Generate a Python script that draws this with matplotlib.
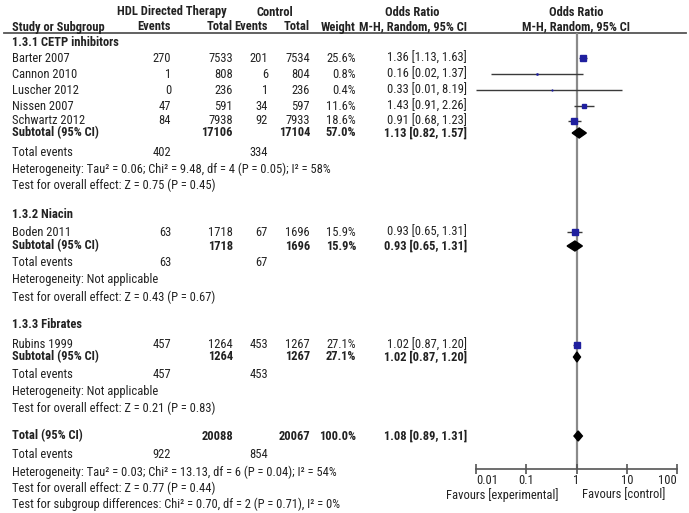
import matplotlib.pyplot as plt
from matplotlib.patches import Polygon
import numpy as np

plt.rcParams['font.family'] = ['Arial Narrow', 'Liberation Sans Narrow', 'Roboto Condensed',
                               'Archivo Narrow', 'PT Sans Narrow', 'Liberation Sans']

# study level data
studies = ['Barter 2007', 'Cannon 2010', 'Luscher 2012', 'Nissen 2007',
           'Schwartz 2012', 'Boden 2011', 'Rubins 1999']
exp_events = [270, 1, 0, 47, 84, 63, 457]
exp_total = [7533, 808, 236, 591, 7938, 1718, 1264]
ctl_events = [201, 6, 1, 34, 92, 67, 453]
ctl_total = [7534, 804, 236, 597, 7933, 1696, 1267]
weights = [25.6, 0.8, 0.4, 11.6, 18.6, 15.9, 27.1]
or_est = [1.36, 0.16, 0.33, 1.43, 0.91, 0.93, 1.02]
or_lo = [1.13, 0.02, 0.01, 0.91, 0.68, 0.65, 0.87]
or_hi = [1.63, 1.37, 8.19, 2.26, 1.23, 1.31, 1.20]

# subgroup data
subgroups = ['1.3.1 CETP inhibitors', '1.3.2 Niacin', '1.3.3 Fibrates']
sub_exp_total = [17106, 1718, 1264]
sub_ctl_total = [17104, 1696, 1267]
sub_exp_events = [402, 63, 457]
sub_ctl_events = [334, 67, 453]
sub_weight = [57.0, 15.9, 27.1]
sub_or = [1.13, 0.93, 1.02]
sub_lo = [0.82, 0.65, 0.87]
sub_hi = [1.57, 1.31, 1.20]
sub_het = ['Heterogeneity: Tau² = 0.06; Chi² = 9.48, df = 4 (P = 0.05); I² = 58%',
           'Heterogeneity: Not applicable',
           'Heterogeneity: Not applicable']
sub_test = ['Test for overall effect: Z = 0.75 (P = 0.45)',
            'Test for overall effect: Z = 0.43 (P = 0.67)',
            'Test for overall effect: Z = 0.21 (P = 0.83)']

# overall
tot_exp_total, tot_ctl_total = 20088, 20067
tot_exp_events, tot_ctl_events = 922, 854
tot_weight = 100.0
tot_or, tot_lo, tot_hi = 1.08, 0.89, 1.31
tot_het = 'Heterogeneity: Tau² = 0.03; Chi² = 13.13, df = 6 (P = 0.04); I² = 54%'
tot_test = 'Test for overall effect: Z = 0.77 (P = 0.44)'
sub_diff = 'Test for subgroup differences: Chi² = 0.70, df = 2 (P = 0.71), I² = 0%'

ticks = [0.01, 0.1, 1, 10, 100]
tick_labels = ['0.01', '0.1', '1', '10', '100']

# layout (pixel rows / columns)
study_y = [58, 74, 90, 106, 121, 232, 345]
grp_y = [43, 214, 325]
subtot_y = [133, 246, 357]
events_y = [153, 263, 375]
het_y = [169, 280, 392]
test_y = [185, 297, 408]
total_y, total_ev_y, total_het_y, total_test_y, diff_y = 436, 455, 472, 488, 504
axis_y, top_y = 469, 33
x_name, x_ee, x_et, x_ce, x_ct, x_w, x_or = 12, 171, 233, 268, 310, 356, 467

TXT = '#222222'
FS = 9

fig = plt.figure(figsize=(6.89, 5.13), dpi=100)
tab = fig.add_axes([0, 0, 1, 1])
tab.set_xlim(0, 689)
tab.set_ylim(513, 0)
tab.axis('off')


def t(x, y, s, ha='left', bold=False, size=FS):
    tab.text(x, y, s, ha=ha, va='center', fontsize=size, color=TXT,
             fontweight='bold' if bold else 'normal')


# headers
t(172, 12, 'HDL Directed Therapy', ha='center', bold=True)
t(275, 12, 'Control', ha='center', bold=True)
t(412, 12, 'Odds Ratio', ha='center', bold=True)
t(576, 12, 'Odds Ratio', ha='center', bold=True)
t(x_name, 27, 'Study or Subgroup', bold=True)
t(x_ee, 27, 'Events', ha='right', bold=True)
t(x_et, 27, 'Total', ha='right', bold=True)
t(x_ce, 27, 'Events', ha='right', bold=True)
t(x_ct, 27, 'Total', ha='right', bold=True)
t(x_w, 27, 'Weight', ha='right', bold=True)
t(x_or, 27, 'M-H, Random, 95% CI', ha='right', bold=True)
t(576, 27, 'M-H, Random, 95% CI', ha='center', bold=True)
tab.plot([4, 686], [top_y, top_y], color='#555555', lw=1.3)

for i, name in enumerate(studies):
    y = study_y[i]
    t(x_name, y, name)
    t(x_ee, y, str(exp_events[i]), ha='right')
    t(x_et, y, str(exp_total[i]), ha='right')
    t(x_ce, y, str(ctl_events[i]), ha='right')
    t(x_ct, y, str(ctl_total[i]), ha='right')
    t(x_w, y, f'{weights[i]:.1f}%', ha='right')
    t(x_or, y, f'{or_est[i]:.2f} [{or_lo[i]:.2f}, {or_hi[i]:.2f}]', ha='right')

for g, gname in enumerate(subgroups):
    t(x_name, grp_y[g], gname, bold=True)
    y = subtot_y[g]
    t(x_name, y, 'Subtotal (95% CI)', bold=True)
    t(x_et, y, str(sub_exp_total[g]), ha='right', bold=True)
    t(x_ct, y, str(sub_ctl_total[g]), ha='right', bold=True)
    t(x_w, y, f'{sub_weight[g]:.1f}%', ha='right', bold=True)
    t(x_or, y, f'{sub_or[g]:.2f} [{sub_lo[g]:.2f}, {sub_hi[g]:.2f}]', ha='right', bold=True)
    t(x_name, events_y[g], 'Total events')
    t(x_ee, events_y[g], str(sub_exp_events[g]), ha='right')
    t(x_ce, events_y[g], str(sub_ctl_events[g]), ha='right')
    t(x_name, het_y[g], sub_het[g])
    t(x_name, test_y[g], sub_test[g])

t(x_name, total_y, 'Total (95% CI)', bold=True)
t(x_et, total_y, str(tot_exp_total), ha='right', bold=True)
t(x_ct, total_y, str(tot_ctl_total), ha='right', bold=True)
t(x_w, total_y, f'{tot_weight:.1f}%', ha='right', bold=True)
t(x_or, total_y, f'{tot_or:.2f} [{tot_lo:.2f}, {tot_hi:.2f}]', ha='right', bold=True)
t(x_name, total_ev_y, 'Total events')
t(x_ee, total_ev_y, str(tot_exp_events), ha='right')
t(x_ce, total_ev_y, str(tot_ctl_events), ha='right')
t(x_name, total_het_y, tot_het)
t(x_name, total_test_y, tot_test)
t(x_name, diff_y, sub_diff)

# forest panel
x0, x1 = 476, 677
ax = fig.add_axes([x0 / 689, (513 - axis_y) / 513, (x1 - x0) / 689, (axis_y - top_y) / 513])
ax.set_xscale('log')
ax.set_xlim(0.01, 100)
ax.set_ylim(axis_y, top_y)
ax.patch.set_alpha(0)
for s in ['top', 'left', 'right']:
    ax.spines[s].set_visible(False)
ax.spines['bottom'].set_color('#555555')
ax.spines['bottom'].set_linewidth(1.2)
ax.set_yticks([])
ax.set_xticks(ticks)
ax.set_xticks([], minor=True)
ax.set_xticklabels(tick_labels)
ax.tick_params(axis='x', direction='inout', length=7, width=1.2, color='#555555',
               labelsize=FS, labelcolor=TXT, pad=0)
labs = ax.get_xticklabels()
labs[0].set_ha('left')
labs[-1].set_ha('right')

ax.axvline(1, color='#8a8a8a', lw=1.6, zorder=1)

for i in range(len(studies)):
    y = study_y[i]
    ax.hlines(y, or_lo[i], or_hi[i], color='#3a3a3a', lw=1.0, zorder=2, clip_on=False)
    side = 1.3 * np.sqrt(weights[i])
    ax.plot(or_est[i], y, marker='s', ms=side * 0.72, color='#1f1f9e',
            mec='#1f1f9e', zorder=3, clip_on=False)


def diamond(est, lo, hi, y, h=5):
    ax.add_patch(Polygon([(lo, y), (est, y - h), (hi, y), (est, y + h)],
                         closed=True, color='black', zorder=4))


for g in range(len(subgroups)):
    diamond(sub_or[g], sub_lo[g], sub_hi[g], subtot_y[g])
diamond(tot_or, tot_lo, tot_hi, total_y)

t(558, 495, 'Favours [experimental]', ha='right')
t(582, 495, 'Favours [control]')

fig.savefig('out.png', dpi=100)
